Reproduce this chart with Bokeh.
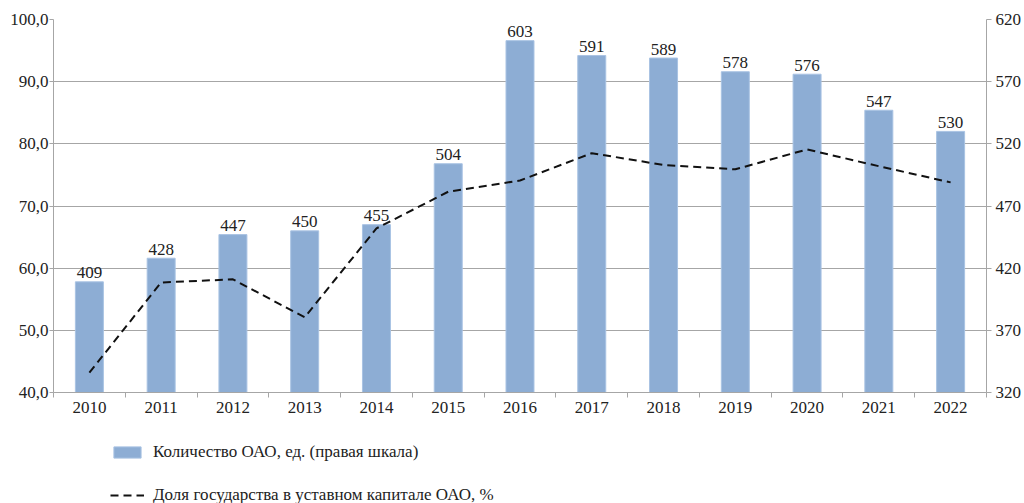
from bokeh.plotting import figure
from bokeh.layouts import column
from bokeh.models import (Range1d, LinearAxis, FixedTicker, Legend, LegendItem,
                          ColumnDataSource)
from bokeh.core.properties import value
from bokeh.embed import file_html
from bokeh.resources import INLINE

years = [2010, 2011, 2012, 2013, 2014, 2015, 2016, 2017, 2018, 2019, 2020, 2021, 2022]
count_oao = [409, 428, 447, 450, 455, 504, 603, 591, 589, 578, 576, 547, 530]
state_share = [43.2, 57.7, 58.2, 52.1, 66.4, 72.3, 74.1, 78.5, 76.6, 75.9, 79.1, 76.4, 73.8]
left_ticks = [40, 50, 60, 70, 80, 90, 100]
right_ticks = [320, 370, 420, 470, 520, 570, 620]
bar_label = "Количество ОАО, ед. (правая шкала)"
line_label = "Доля государства в уставном капитале ОАО, %"

FONT = "Liberation Serif"
GRID = "#a6a6a6"
TXT = "#222222"
BAR_FILL = "#8DADD4"
BAR_LINE = "#A9C3E3"

src = ColumnDataSource(dict(x=years, c=count_oao, s=state_share,
                            lbl=[str(v) for v in count_oao]))

p = figure(width=1024, height=430, output_backend="svg", toolbar_location=None,
           x_range=Range1d(2009.5, 2022.5), y_range=Range1d(40, 100),
           min_border_left=53, min_border_right=38, min_border_top=19,
           min_border_bottom=38, outline_line_color=None)
p.extra_y_ranges = {"right": Range1d(320, 620)}

# bars
p.vbar(x="x", top="c", bottom=320, width=0.39, source=src, y_range_name="right",
       fill_color=BAR_FILL, line_color=BAR_LINE, line_width=1)
p.text(x="x", y="c", text="lbl", source=src, y_range_name="right",
       text_align="center", text_baseline="alphabetic", y_offset=-9,
       text_font=value(FONT), text_font_size="17px", text_color=TXT)
# line
p.line(x="x", y="s", source=src, line_color="#111111", line_width=2, line_dash="8 5")

# axes
p.xaxis.ticker = FixedTicker(ticks=years, minor_ticks=[y - 0.5 for y in years] + [2022.5])
p.xaxis.major_tick_line_color = None
p.xaxis.minor_tick_out = 5
p.xaxis.minor_tick_in = 0
p.xaxis.minor_tick_line_color = GRID
p.xaxis.axis_line_color = GRID
p.xaxis.major_label_standoff = 3

p.yaxis.ticker = FixedTicker(ticks=left_ticks)
p.yaxis.major_label_overrides = {t: f"{t},0" for t in left_ticks}
p.yaxis.minor_tick_line_color = None
p.yaxis.major_tick_out = 4
p.yaxis.major_tick_in = 0
p.yaxis.major_tick_line_color = GRID
p.yaxis.axis_line_color = GRID
p.yaxis.major_label_standoff = 1

ra = LinearAxis(y_range_name="right", ticker=FixedTicker(ticks=right_ticks))
ra.minor_tick_line_color = None
ra.major_tick_out = 5
ra.major_tick_in = 0
ra.major_tick_line_color = GRID
ra.axis_line_color = GRID
ra.major_label_standoff = 4
p.add_layout(ra, "right")

for ax in [p.xaxis[0], p.yaxis[0], ra]:
    ax.major_label_text_font = FONT
    ax.major_label_text_font_size = "17px"
    ax.major_label_text_color = TXT

p.xgrid.grid_line_color = None
p.ygrid.ticker = FixedTicker(ticks=left_ticks)
p.ygrid.grid_line_color = GRID
p.ygrid.grid_line_width = 1

# legend strip below the chart; its renderers share the data but lie just below its view
lf = figure(width=1024, height=73, output_backend="svg", toolbar_location=None,
            x_range=Range1d(2009.5, 2022.5), y_range=Range1d(5000, 20000), min_border=0,
            outline_line_color=None)
lf.axis.visible = False
lf.grid.visible = False
lb = lf.vbar(x="x", top="c", bottom=320, width=0.39, source=src,
             fill_color=BAR_FILL, line_color=BAR_LINE)
ll = lf.line(x="x", y="s", source=src, line_color="#111111", line_width=2,
             line_dash="8 5")

legend = Legend(items=[LegendItem(label=bar_label, renderers=[lb]),
                       LegendItem(label=line_label, renderers=[ll])],
                location=(57, -2), orientation="vertical",
                label_text_font=FONT, label_text_font_size="17px",
                label_text_color=TXT, glyph_width=34, glyph_height=14,
                label_height=14, spacing=23, padding=0, margin=0,
                border_line_color=None, background_fill_alpha=0,
                label_standoff=9)
lf.add_layout(legend, "center")

layout = column(p, lf, spacing=0)
open("out.html", "w").write(file_html(layout, INLINE))
